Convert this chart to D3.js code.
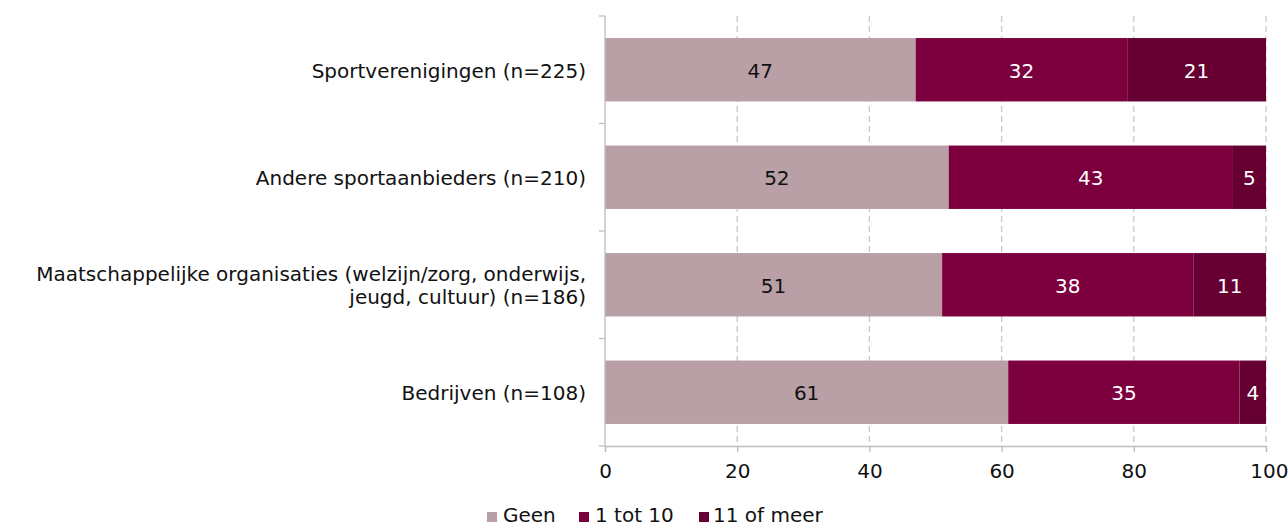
<!DOCTYPE html>
<html><head><meta charset="utf-8">
<script src="https://cdn.jsdelivr.net/npm/d3@7"></script>
<style>body{margin:0;background:#fff}svg{display:block}text{font-family:"DejaVu Sans",sans-serif}</style>
</head><body><svg id="c" width="1288" height="528"></svg>
<script>
const categories = [
  ["Sportverenigingen (n=225)"],
  ["Andere sportaanbieders (n=210)"],
  ["Maatschappelijke organisaties (welzijn/zorg, onderwijs,", "jeugd, cultuur) (n=186)"],
  ["Bedrijven (n=108)"]
];
const seriesNames = ["Geen", "1 tot 10", "11 of meer"];
const geen = [47, 52, 51, 61];
const eenTot10 = [32, 43, 38, 35];
const elfOfMeer = [21, 5, 11, 4];
const xTicks = [0, 20, 40, 60, 80, 100];
const colors = ["#b9a0a6", "#7d003e", "#660033"];
const labelColors = ["#111", "#fff", "#fff"];

(function () {
const svg = d3.select("#c");
const pl = 605, pr = 1266, pt = 16, pb = 446;
const fs = 20;
const x = d3.scaleLinear().domain([0, 100]).range([pl, pr]);
const idx = d3.range(categories.length);
const y = d3.scaleBand().domain(idx).range([pt, pb]).paddingInner(0.41).paddingOuter(0.205);
const yb = d3.scaleBand().domain(idx).range([pt, pb]);

svg.append("g").selectAll("line").data(xTicks.slice(1)).join("line")
  .attr("x1", d => x(d)).attr("x2", d => x(d)).attr("y1", pt).attr("y2", pb)
  .attr("stroke", "#c8c8c8").attr("stroke-width", 1.3).attr("stroke-dasharray", "6,4");

const series = [geen, eenTot10, elfOfMeer];
series.forEach((vals, s) => {
  const g = svg.append("g");
  vals.forEach((v, i) => {
    let start = 0; for (let k = 0; k < s; k++) start += series[k][i];
    g.append("rect").attr("x", x(start)).attr("y", y(i)).attr("width", x(start + v) - x(start)).attr("height", y.bandwidth())
      .attr("fill", colors[s]);
    g.append("text").attr("x", (x(start) + x(start + v)) / 2).attr("y", y(i) + y.bandwidth() / 2 + 1)
      .attr("dy", "0.36em").attr("text-anchor", "middle").attr("font-size", fs).attr("fill", labelColors[s]).text(v);
  });
});

const axisColor = "#bdbdbd";
svg.append("line").attr("x1", pl).attr("x2", pl).attr("y1", pt).attr("y2", pb).attr("stroke", axisColor).attr("stroke-width", 1.3);
d3.range(categories.length + 1).forEach(i => {
  const yy = i < categories.length ? yb(i) : pb;
  svg.append("line").attr("x1", pl - 6).attr("x2", pl).attr("y1", yy).attr("y2", yy).attr("stroke", axisColor).attr("stroke-width", 1.3);
});
const xa = svg.append("g").attr("transform", `translate(0,${pb})`)
  .call(d3.axisBottom(x).tickValues(xTicks).tickSize(6).tickPadding(12));
xa.select(".domain").attr("stroke", axisColor).attr("stroke-width", 1.3);
xa.selectAll(".tick line").attr("stroke", axisColor).attr("stroke-width", 1.3);
xa.selectAll("text").attr("font-size", fs).attr("fill", "#111").attr("font-family", "DejaVu Sans, sans-serif");
xa.selectAll(".tick").filter(d => d === 100).select("text").attr("text-anchor", "end").attr("x", 22);

categories.forEach((lines, i) => {
  const cy = y(i) + y.bandwidth() / 2 + 1;
  const t = svg.append("text").attr("text-anchor", "end").attr("font-size", fs).attr("fill", "#111");
  lines.forEach((ln, j) => {
    t.append("tspan").attr("x", 586).attr("y", cy + (j - (lines.length - 1) / 2) * 23).attr("dy", "0.36em").text(ln);
  });
});

const lg = svg.append("g");
const legendX = [487, 579, 699];
const legendTx = [503, 595, 713];
seriesNames.forEach((n, i) => {
  lg.append("rect").attr("x", legendX[i]).attr("y", 512).attr("width", 10).attr("height", 10).attr("fill", colors[i]);
  lg.append("text").attr("x", legendTx[i]).attr("y", 522).attr("font-size", fs).attr("fill", "#111").text(n);
});
})();
</script></body></html>
